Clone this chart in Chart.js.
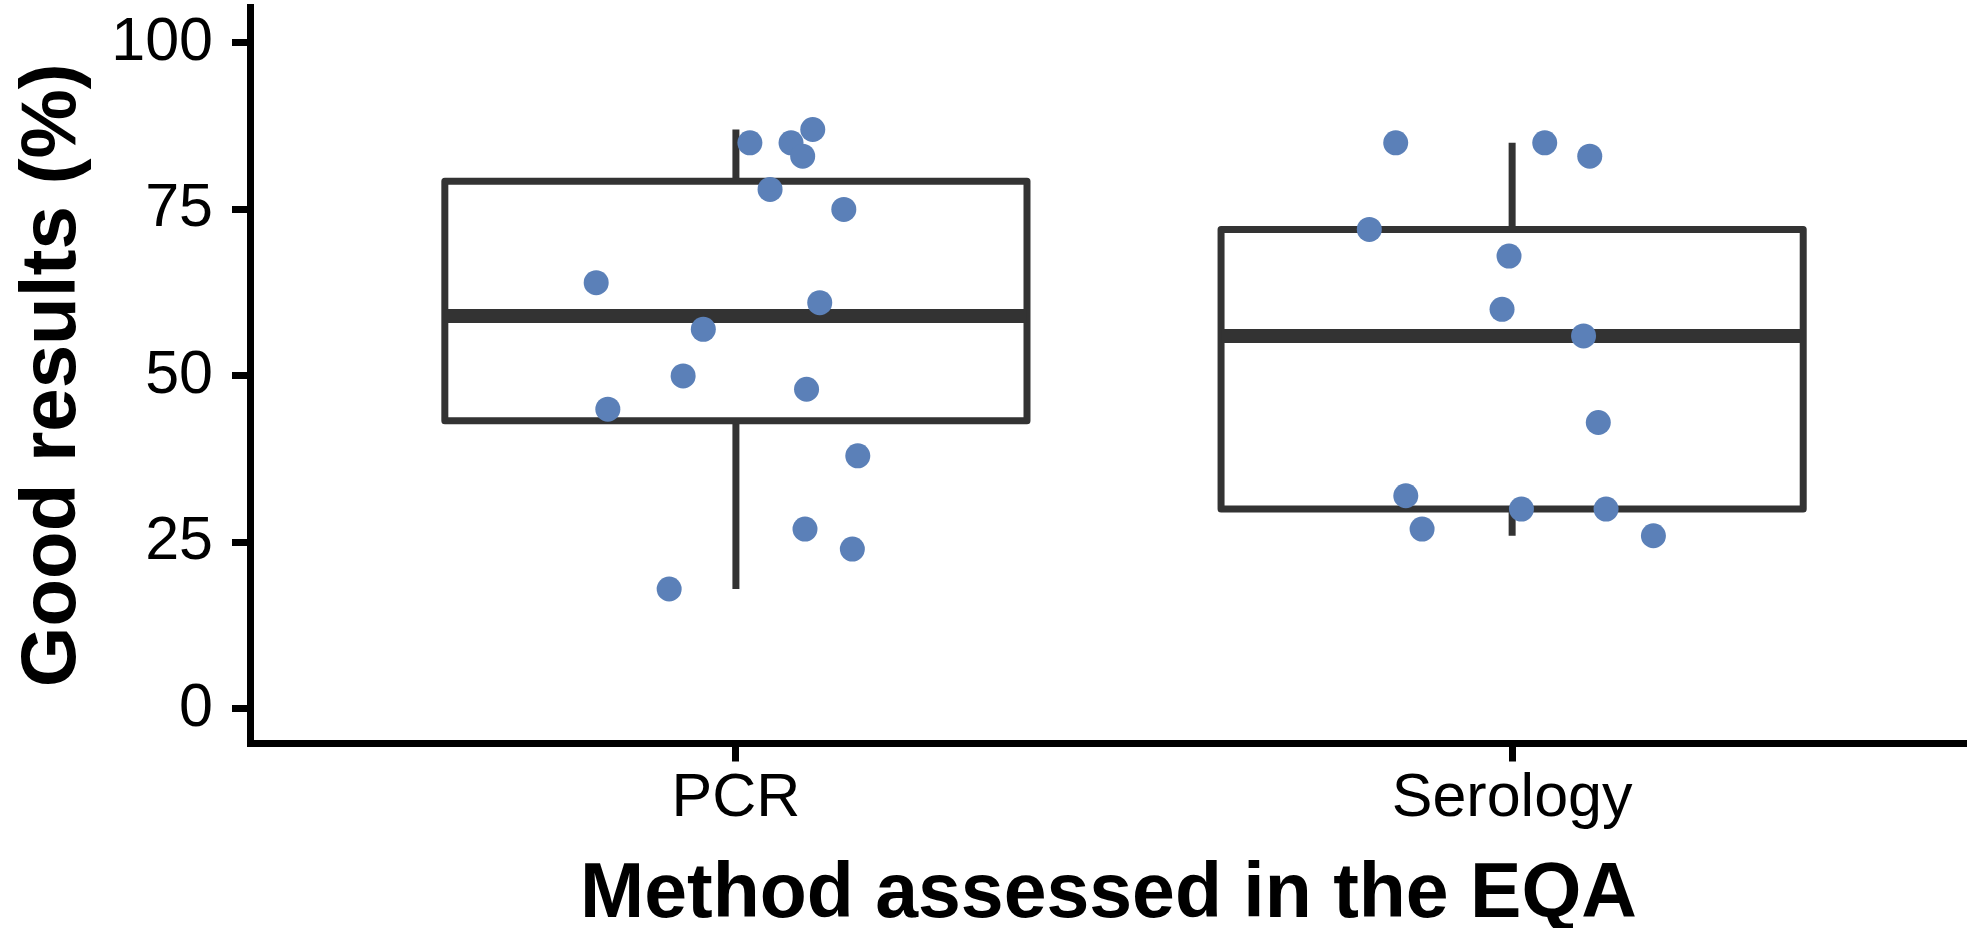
<!DOCTYPE html>
<html>
<head>
<meta charset="utf-8">
<script src="https://cdn.jsdelivr.net/npm/chart.js@4/dist/chart.umd.min.js"></script>
<style>
  body { margin: 0; background: #fff; }
  canvas { display: block; }
</style>
</head>
<body>
<canvas id="chart" width="1967" height="928"></canvas>
<script>
// categories on the x axis (positions 1 and 2)
var categories = ["PCR", "Serology"];
var yTicks = [0, 25, 50, 75, 100];

// points: value (%) and horizontal jitter
var pcrValues  = [85, 85, 87, 83, 78, 75, 64, 61, 57, 50, 48, 45, 38, 27, 24, 18];
var pcrJitter  = [0.018, 0.071, 0.099, 0.086, 0.044, 0.139, -0.180, 0.108, -0.042, -0.068, 0.091, -0.165, 0.157, 0.089, 0.150, -0.086];
var seroValues = [85, 85, 83, 72, 68, 60, 56, 43, 32, 30, 30, 27, 26];
var seroJitter = [-0.150, 0.042, 0.100, -0.184, -0.004, -0.013, 0.092, 0.111, -0.137, 0.012, 0.121, -0.116, 0.182];

// boxplot stats per category
var boxLow    = [18, 26];
var boxQ1     = [43.25, 30];
var boxMedian = [59, 56];
var boxQ3     = [79.25, 72];
var boxHigh   = [87, 85];

var halfBox = 0.375;
var lineCol = "#333333";
var pointCol = "#5b80b8";
var fontFam = "'Liberation Sans', Arial, Helvetica, sans-serif";

function pts(values, jitter, pos) {
  return values.map(function (v, i) {
    return { x: pos + jitter[i], y: v };
  });
}

var datasets = [];

// points on top
datasets.push({
  label: "points",
  data: pts(pcrValues, pcrJitter, 1).concat(pts(seroValues, seroJitter, 2)),
  backgroundColor: pointCol,
  borderWidth: 0,
  pointRadius: 12.5,
  showLine: false,
  order: 0
});

for (var i = 0; i < categories.length; i++) {
  var c = i + 1;
  // box outline
  datasets.push({
    label: "box" + c,
    data: [
      { x: c - halfBox, y: boxQ1[i] }, { x: c + halfBox, y: boxQ1[i] },
      { x: c + halfBox, y: boxQ3[i] }, { x: c - halfBox, y: boxQ3[i] },
      { x: c - halfBox, y: boxQ1[i] }
    ],
    showLine: true, pointRadius: 0, borderColor: lineCol, borderWidth: 7,
    borderJoinStyle: "round", borderCapStyle: "round", fill: false, tension: 0,
    order: 2
  });
  // median
  datasets.push({
    label: "median" + c,
    data: [{ x: c - halfBox, y: boxMedian[i] }, { x: c + halfBox, y: boxMedian[i] }],
    showLine: true, pointRadius: 0, borderColor: lineCol, borderWidth: 14,
    borderCapStyle: "butt", fill: false, order: 1
  });
  // whiskers
  datasets.push({
    label: "whiskUp" + c,
    data: [{ x: c, y: boxQ3[i] }, { x: c, y: boxHigh[i] }],
    showLine: true, pointRadius: 0, borderColor: lineCol, borderWidth: 7,
    borderCapStyle: "butt", fill: false, order: 3
  });
  datasets.push({
    label: "whiskLo" + c,
    data: [{ x: c, y: boxQ1[i] }, { x: c, y: boxLow[i] }],
    showLine: true, pointRadius: 0, borderColor: lineCol, borderWidth: 7,
    borderCapStyle: "butt", fill: false, order: 3
  });
}

var myChart = new Chart(document.getElementById("chart"), {
  type: "scatter",
  data: { datasets: datasets },
  options: {
    responsive: false,
    devicePixelRatio: 1,
    animation: false,
    layout: { autoPadding: false, padding: { top: 7, left: 0, right: 0, bottom: 0 } },
    plugins: { legend: { display: false }, tooltip: { enabled: false } },
    scales: {
      x: {
        type: "linear",
        min: 0.374,
        max: 2.586,
        afterFit: function (scale) {
          scale.height = 184.5;
          scale.paddingLeft = 0;
          scale.paddingRight = 0;
        },
        afterBuildTicks: function (scale) {
          scale.ticks = categories.map(function (n, i) { return { value: i + 1 }; });
        },
        ticks: {
          callback: function (v) { return categories[Math.round(v) - 1]; },
          color: "#000",
          padding: 1,
          font: { family: fontFam, size: 61 },
          maxRotation: 0
        },
        grid: { drawOnChartArea: false, drawTicks: true, tickLength: 18, tickWidth: 7, tickColor: "#000" },
        border: { display: true, color: "#000", width: 7 },
        title: {
          display: true,
          text: "Method assessed in the EQA",
          color: "#000",
          font: { family: fontFam, size: 77, weight: "bold", lineHeight: 0.83 },
          padding: 0
        }
      },
      y: {
        type: "linear",
        min: -5.2,
        max: 105.4,
        afterFit: function (scale) {
          scale.width = 250;
          scale.paddingTop = 0;
          scale.paddingBottom = 0;
        },
        afterBuildTicks: function (scale) {
          scale.ticks = yTicks.map(function (v) { return { value: v }; });
        },
        ticks: {
          color: "#000",
          padding: 19,
          font: { family: fontFam, size: 61 }
        },
        grid: { drawOnChartArea: false, drawTicks: true, tickLength: 18, tickWidth: 7, tickColor: "#000" },
        border: { display: true, color: "#000", width: 7 },
        title: {
          display: true,
          text: "Good results (%)",
          color: "#000",
          font: { family: fontFam, size: 78, weight: "bold", lineHeight: 1 },
          padding: { top: 14, bottom: 0 }
        }
      }
    }
  }
});
</script>
</body>
</html>
